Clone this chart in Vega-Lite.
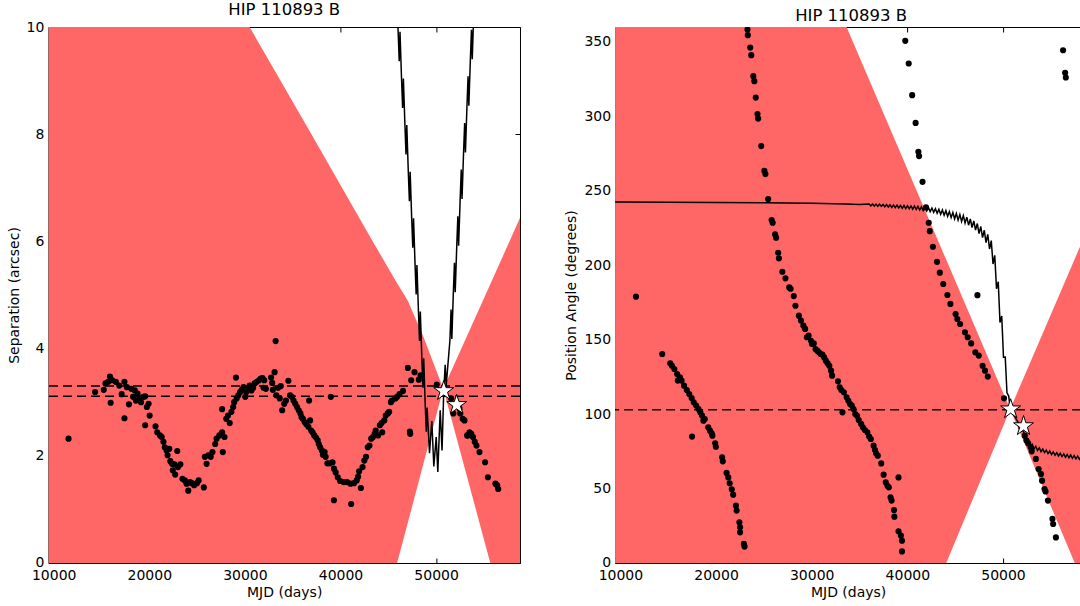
{
"$schema": "https://vega.github.io/schema/vega-lite/v6.json",
"padding": {"left": 6.4, "top": 1, "right": 0, "bottom": 0},
"spacing": 94.7,
"bounds": "flush",
"config": {
  "font": "DejaVu Sans",
  "view": {"stroke": "black", "strokeWidth": 1},
  "axis": {"grid": false, "domain": false, "ticks": true, "tickSize": -5, "tickColor": "black", "tickWidth": 1, "labelFont": "DejaVu Sans", "labelFontSize": 14, "labelColor": "black", "labelPadding": 9.5, "titleFont": "DejaVu Sans", "titleFontSize": 14, "titleFontWeight": "normal", "titleColor": "black", "labelFlush": false, "labelOverlap": false},
  "axisX": {"labelPadding": 11, "titlePadding": 3},
  "axisY": {"titlePadding": 5},
  "title": {"font": "DejaVu Sans", "fontSize": 16.5, "fontWeight": "normal", "color": "black", "offset": 2, "frame": "group"}
},
"datasets": {
  "sepband": [{"t":9446,"lo":0,"hi":10},{"t":30490,"lo":0,"hi":10},{"t":36900,"lo":0,"hi":8.02},{"t":43047,"lo":0,"hi":6.1},{"t":45921,"lo":0,"hi":5.22},{"t":47013,"lo":0.73,"hi":4.9},{"t":48610,"lo":1.81,"hi":4.25},{"t":50750,"lo":3.25,"hi":3.25},{"t":53420,"lo":1.49,"hi":4.31},{"t":55668,"lo":0,"hi":5.2},{"t":58776,"lo":0,"hi":6.44}],
  "paband": [{"t":9446,"lo":0,"hi":360},{"t":33646,"lo":0,"hi":360},{"t":44069,"lo":0,"hi":203.6},{"t":50750,"lo":103.3,"hi":103.3},{"t":57500,"lo":0,"hi":204.2},{"t":58166,"lo":0,"hi":214.2}],
  "sepref": [{"v":3.30},{"v":3.11}],
  "paref": [{"v":103.0}],
  "stars": [{"t":50800,"sep":3.21,"pa":103.3},{"t":52150,"sep":2.95,"pa":92.0}],
  "sepline": [{"t":45670,"v":10.81},{"t":45790,"v":10.23},{"t":45870,"v":10.78},{"t":46024,"v":9.94},{"t":46144,"v":9.36},{"t":46224,"v":9.91},{"t":46379,"v":9.07},{"t":46499,"v":8.49},{"t":46579,"v":9.04},{"t":46733,"v":8.20},{"t":46853,"v":7.62},{"t":46933,"v":8.17},{"t":47087,"v":7.33},{"t":47207,"v":6.75},{"t":47287,"v":7.30},{"t":47441,"v":6.46},{"t":47561,"v":5.88},{"t":47641,"v":6.43},{"t":47795,"v":5.59},{"t":47915,"v":5.01},{"t":47995,"v":5.56},{"t":48149,"v":4.72},{"t":48269,"v":4.14},{"t":48349,"v":4.69},{"t":48503,"v":3.85},{"t":48623,"v":3.27},{"t":48703,"v":3.82},{"t":48857,"v":2.98},{"t":48977,"v":2.45},{"t":49057,"v":2.90},{"t":49312,"v":2.05},{"t":49552,"v":2.65},{"t":49761,"v":1.80},{"t":50012,"v":2.35},{"t":50179,"v":1.70},{"t":50429,"v":2.85},{"t":50620,"v":2.10},{"t":50800,"v":3.20},{"t":50950,"v":3.70},{"t":51050,"v":3.30},{"t":51445,"v":4.15},{"t":51565,"v":4.73},{"t":51645,"v":4.18},{"t":51800,"v":5.02},{"t":51920,"v":5.60},{"t":52000,"v":5.05},{"t":52156,"v":5.89},{"t":52276,"v":6.47},{"t":52356,"v":5.92},{"t":52512,"v":6.76},{"t":52632,"v":7.34},{"t":52712,"v":6.79},{"t":52868,"v":7.63},{"t":52988,"v":8.21},{"t":53068,"v":7.66},{"t":53224,"v":8.50},{"t":53344,"v":9.08},{"t":53424,"v":8.53},{"t":53580,"v":9.37},{"t":53700,"v":9.95},{"t":53780,"v":9.40},{"t":53935,"v":10.24},{"t":54055,"v":10.82}],
  "paline": [{"t":9446,"v":242.4},{"t":15000,"v":242.3},{"t":20000,"v":242.1},{"t":25000,"v":241.9},{"t":30000,"v":241.6},{"t":33500,"v":241.2},{"t":35000,"v":240.85},{"t":36000,"v":241.15},{"t":36182,"v":239.90},{"t":36365,"v":241.11},{"t":36547,"v":239.76},{"t":36730,"v":241.07},{"t":36912,"v":239.62},{"t":37095,"v":240.96},{"t":37277,"v":239.48},{"t":37460,"v":240.84},{"t":37642,"v":239.26},{"t":37825,"v":240.73},{"t":38007,"v":239.05},{"t":38190,"v":240.56},{"t":38372,"v":238.83},{"t":38555,"v":240.45},{"t":38737,"v":238.62},{"t":38920,"v":240.34},{"t":39102,"v":238.45},{"t":39285,"v":240.22},{"t":39467,"v":238.24},{"t":39650,"v":240.11},{"t":39832,"v":238.03},{"t":40015,"v":239.94},{"t":40197,"v":237.86},{"t":40380,"v":239.83},{"t":40562,"v":237.65},{"t":40745,"v":239.71},{"t":40927,"v":237.43},{"t":41110,"v":239.50},{"t":41292,"v":237.10},{"t":41475,"v":239.24},{"t":41657,"v":236.73},{"t":41840,"v":238.97},{"t":42022,"v":236.36},{"t":42205,"v":238.71},{"t":42387,"v":236.00},{"t":42570,"v":238.40},{"t":42752,"v":235.48},{"t":42935,"v":237.96},{"t":43117,"v":234.84},{"t":43300,"v":237.53},{"t":43482,"v":234.21},{"t":43665,"v":237.09},{"t":43847,"v":233.57},{"t":44030,"v":236.64},{"t":44212,"v":232.83},{"t":44395,"v":236.01},{"t":44577,"v":231.99},{"t":44760,"v":235.38},{"t":44942,"v":231.17},{"t":45125,"v":234.73},{"t":45307,"v":230.27},{"t":45490,"v":234.02},{"t":45672,"v":229.37},{"t":45855,"v":233.32},{"t":46037,"v":228.36},{"t":46220,"v":232.31},{"t":46402,"v":226.87},{"t":46585,"v":231.08},{"t":46767,"v":225.33},{"t":46950,"v":229.79},{"t":47132,"v":223.55},{"t":47315,"v":228.01},{"t":47497,"v":221.28},{"t":47680,"v":225.99},{"t":47862,"v":218.49},{"t":48045,"v":223.49},{"t":48227,"v":215.23},{"t":48410,"v":220.70},{"t":48592,"v":210.88},{"t":48775,"v":216.55},{"t":48957,"v":200.78},{"t":49140,"v":206.6},{"t":49322,"v":184.15},{"t":49505,"v":188.96},{"t":49687,"v":161.57},{"t":49870,"v":165.92},{"t":50052,"v":138.23},{"t":50235,"v":138.35},{"t":50417,"v":114.32},{"t":50600,"v":112.1},{"t":50760,"v":103.3},{"t":51400,"v":96.5},{"t":52000,"v":90.0},{"t":52400,"v":84.5},{"t":52700,"v":81.8},{"t":52882,"v":77.8},{"t":53065,"v":79.6},{"t":53247,"v":76.55},{"t":53430,"v":78.39},{"t":53612,"v":75.58},{"t":53795,"v":77.39},{"t":53977,"v":74.80},{"t":54160,"v":76.51},{"t":54342,"v":74.12},{"t":54525,"v":75.79},{"t":54707,"v":73.48},{"t":54890,"v":75.18},{"t":55072,"v":72.87},{"t":55255,"v":74.56},{"t":55437,"v":72.33},{"t":55620,"v":74.11},{"t":55802,"v":71.89},{"t":55985,"v":73.68},{"t":56167,"v":71.46},{"t":56350,"v":73.25},{"t":56532,"v":71.06},{"t":56715,"v":72.88},{"t":56897,"v":70.69},{"t":57080,"v":72.51},{"t":57262,"v":70.32},{"t":57445,"v":72.14},{"t":57627,"v":69.96},{"t":57810,"v":71.78},{"t":57992,"v":69.61},{"t":58175,"v":71.43}],
  "seppts": [{"t":11552,"v":2.32},{"t":14332,"v":3.19},{"t":15235,"v":3.23},{"t":15415,"v":3.35},{"t":15704,"v":3.38},{"t":15884,"v":3.48},{"t":15957,"v":2.99},{"t":16137,"v":3.41},{"t":16498,"v":3.38},{"t":16859,"v":3.31},{"t":17112,"v":3.15},{"t":17401,"v":3.38},{"t":17401,"v":2.70},{"t":17653,"v":3.28},{"t":17870,"v":2.96},{"t":18123,"v":3.25},{"t":18303,"v":3.10},{"t":18484,"v":3.22},{"t":18592,"v":3.03},{"t":18773,"v":3.16},{"t":18953,"v":3.07},{"t":19134,"v":3.00},{"t":19386,"v":3.10},{"t":19567,"v":3.11},{"t":19567,"v":2.57},{"t":19747,"v":2.91},{"t":19928,"v":2.97},{"t":20036,"v":2.75},{"t":20650,"v":2.55},{"t":20830,"v":2.44},{"t":21119,"v":2.38},{"t":21300,"v":2.35},{"t":21480,"v":2.26},{"t":21625,"v":2.16},{"t":21805,"v":2.10},{"t":21913,"v":2.01},{"t":22094,"v":2.13},{"t":22202,"v":1.90},{"t":22383,"v":1.85},{"t":22455,"v":1.73},{"t":22635,"v":1.84},{"t":22708,"v":1.65},{"t":22924,"v":2.09},{"t":22996,"v":1.79},{"t":23249,"v":1.84},{"t":23466,"v":1.57},{"t":23718,"v":1.54},{"t":23899,"v":1.48},{"t":24079,"v":1.35},{"t":24260,"v":1.51},{"t":24440,"v":1.49},{"t":24693,"v":1.45},{"t":24982,"v":1.49},{"t":25162,"v":1.54},{"t":25704,"v":1.41},{"t":25812,"v":1.98},{"t":25993,"v":1.85},{"t":26173,"v":2.01},{"t":26426,"v":1.98},{"t":26606,"v":2.07},{"t":26895,"v":2.22},{"t":27040,"v":2.32},{"t":27329,"v":2.38},{"t":27617,"v":2.44},{"t":27690,"v":2.07},{"t":27870,"v":2.35},{"t":27617,"v":2.87},{"t":28051,"v":2.69},{"t":28231,"v":2.75},{"t":28412,"v":2.61},{"t":28592,"v":2.82},{"t":28773,"v":2.91},{"t":28881,"v":3.00},{"t":29061,"v":3.46},{"t":29134,"v":3.07},{"t":29315,"v":3.13},{"t":29495,"v":3.19},{"t":29675,"v":3.23},{"t":29856,"v":3.28},{"t":30036,"v":3.10},{"t":30144,"v":3.19},{"t":30289,"v":3.27},{"t":30505,"v":3.31},{"t":30686,"v":3.22},{"t":30866,"v":3.27},{"t":31011,"v":3.35},{"t":31227,"v":3.38},{"t":31480,"v":3.41},{"t":31661,"v":3.44},{"t":31841,"v":3.45},{"t":32022,"v":3.41},{"t":31949,"v":3.27},{"t":32202,"v":3.25},{"t":32744,"v":3.46},{"t":32852,"v":3.36},{"t":32924,"v":3.23},{"t":33105,"v":3.56},{"t":33213,"v":4.14},{"t":33285,"v":3.13},{"t":33466,"v":3.27},{"t":33646,"v":3.07},{"t":33755,"v":3.30},{"t":33899,"v":2.85},{"t":34116,"v":2.97},{"t":34296,"v":3.03},{"t":34549,"v":3.40},{"t":34729,"v":3.13},{"t":34910,"v":3.10},{"t":35090,"v":3.03},{"t":35271,"v":2.97},{"t":35451,"v":2.91},{"t":35632,"v":2.85},{"t":35812,"v":2.79},{"t":35921,"v":2.72},{"t":36065,"v":2.69},{"t":36245,"v":2.63},{"t":36426,"v":2.59},{"t":36643,"v":2.54},{"t":36715,"v":3.03},{"t":36823,"v":2.66},{"t":36931,"v":2.47},{"t":37076,"v":2.44},{"t":37256,"v":2.38},{"t":37437,"v":2.34},{"t":37617,"v":2.29},{"t":37726,"v":2.22},{"t":37870,"v":2.16},{"t":38051,"v":2.10},{"t":38159,"v":2.02},{"t":38339,"v":2.07},{"t":38448,"v":1.98},{"t":38628,"v":1.86},{"t":38881,"v":1.86},{"t":38989,"v":3.10},{"t":39170,"v":1.88},{"t":39314,"v":1.76},{"t":39314,"v":1.17},{"t":39495,"v":1.69},{"t":39711,"v":1.60},{"t":39964,"v":1.53},{"t":40325,"v":1.51},{"t":40686,"v":1.51},{"t":41047,"v":1.48},{"t":41119,"v":1.10},{"t":41408,"v":1.49},{"t":41697,"v":1.54},{"t":41841,"v":1.61},{"t":41949,"v":1.71},{"t":42130,"v":1.40},{"t":42310,"v":1.79},{"t":42491,"v":1.91},{"t":42671,"v":1.98},{"t":42852,"v":2.16},{"t":43032,"v":2.19},{"t":43213,"v":2.32},{"t":43394,"v":2.35},{"t":43574,"v":2.41},{"t":43682,"v":2.47},{"t":43935,"v":2.38},{"t":44116,"v":2.57},{"t":44296,"v":2.61},{"t":44368,"v":2.44},{"t":44585,"v":2.66},{"t":44729,"v":2.75},{"t":44946,"v":2.79},{"t":45090,"v":2.82},{"t":45271,"v":3.00},{"t":45379,"v":3.03},{"t":45740,"v":3.07},{"t":45921,"v":3.10},{"t":46173,"v":3.15},{"t":46534,"v":3.21},{"t":47047,"v":3.64},{"t":47290,"v":2.41},{"t":47256,"v":2.45},{"t":47395,"v":3.41},{"t":47743,"v":3.56},{"t":48194,"v":3.42},{"t":48370,"v":3.50},{"t":50075,"v":3.33},{"t":51579,"v":3.07},{"t":51805,"v":2.79},{"t":52446,"v":2.88},{"t":52527,"v":2.79},{"t":52780,"v":2.69},{"t":52970,"v":2.66},{"t":53249,"v":2.38},{"t":53315,"v":2.38},{"t":53502,"v":2.44},{"t":53682,"v":2.41},{"t":53863,"v":2.35},{"t":54043,"v":2.26},{"t":54224,"v":2.19},{"t":54538,"v":2.07},{"t":55126,"v":1.88},{"t":55415,"v":1.60},{"t":56209,"v":1.48},{"t":56390,"v":1.45},{"t":56498,"v":1.38}],
  "papts": [{"t":11625,"v":178.9},{"t":14376,"v":140.4},{"t":15208,"v":134.1},{"t":15389,"v":132.5},{"t":15642,"v":130.3},{"t":15931,"v":126.9},{"t":16004,"v":122.5},{"t":16221,"v":124.7},{"t":16402,"v":122.5},{"t":16655,"v":119.1},{"t":16944,"v":116.2},{"t":17197,"v":113.5},{"t":17450,"v":110.8},{"t":17486,"v":84.9},{"t":17667,"v":107.9},{"t":17920,"v":105.7},{"t":18174,"v":103.4},{"t":18354,"v":101.2},{"t":18535,"v":99.0},{"t":18680,"v":95.6},{"t":18825,"v":96.7},{"t":19186,"v":91.1},{"t":19367,"v":88.9},{"t":19548,"v":87.1},{"t":19620,"v":85.5},{"t":19910,"v":80.4},{"t":19982,"v":78.1},{"t":20633,"v":71.0},{"t":20705,"v":68.3},{"t":21103,"v":60.5},{"t":21284,"v":57.5},{"t":21428,"v":53.5},{"t":21645,"v":49.5},{"t":21790,"v":45.9},{"t":22079,"v":38.5},{"t":22152,"v":35.2},{"t":22441,"v":27.3},{"t":22514,"v":24.0},{"t":22514,"v":20.6},{"t":22912,"v":12.8},{"t":22984,"v":11.0},{"t":23285,"v":358.3},{"t":23321,"v":354.5},{"t":23574,"v":346.2},{"t":23682,"v":341.1},{"t":23899,"v":327.0},{"t":24007,"v":323.6},{"t":24152,"v":312.6},{"t":24332,"v":301.5},{"t":24404,"v":298.5},{"t":24729,"v":280.0},{"t":25054,"v":263.4},{"t":25162,"v":261.2},{"t":25451,"v":244.4},{"t":25812,"v":230.3},{"t":25921,"v":228.5},{"t":26173,"v":220.7},{"t":26282,"v":218.5},{"t":26498,"v":208.4},{"t":26570,"v":204.6},{"t":26931,"v":195.6},{"t":27256,"v":191.2},{"t":27653,"v":185.1},{"t":27798,"v":184.2},{"t":28123,"v":179.3},{"t":28300,"v":172.8},{"t":28662,"v":166.1},{"t":28879,"v":162.8},{"t":29132,"v":159.4},{"t":29313,"v":157.2},{"t":29494,"v":151.6},{"t":29675,"v":152.7},{"t":29928,"v":149.3},{"t":30036,"v":147.1},{"t":30217,"v":147.5},{"t":30398,"v":143.7},{"t":30579,"v":142.6},{"t":30759,"v":141.5},{"t":30940,"v":140.4},{"t":31121,"v":139.9},{"t":31302,"v":138.1},{"t":31483,"v":135.9},{"t":31664,"v":134.1},{"t":31844,"v":132.5},{"t":32025,"v":129.2},{"t":32134,"v":125.8},{"t":32749,"v":122.0},{"t":32929,"v":118.0},{"t":33110,"v":116.2},{"t":33219,"v":101.2},{"t":33363,"v":114.6},{"t":33653,"v":111.3},{"t":33834,"v":109.0},{"t":34014,"v":106.8},{"t":34195,"v":105.7},{"t":34376,"v":103.4},{"t":34557,"v":100.1},{"t":34738,"v":98.9},{"t":34919,"v":96.0},{"t":35172,"v":93.4},{"t":35353,"v":91.1},{"t":35569,"v":89.3},{"t":35823,"v":87.8},{"t":36004,"v":84.9},{"t":36184,"v":83.3},{"t":36474,"v":78.8},{"t":36618,"v":75.9},{"t":36727,"v":73.7},{"t":36908,"v":72.1},{"t":37269,"v":66.9},{"t":37522,"v":59.3},{"t":37740,"v":54.2},{"t":37920,"v":51.9},{"t":38065,"v":50.8},{"t":38246,"v":44.1},{"t":38354,"v":41.9},{"t":38608,"v":35.6},{"t":38644,"v":31.1},{"t":39078,"v":57.5},{"t":39078,"v":21.3},{"t":39331,"v":18.4},{"t":39439,"v":15.0},{"t":39439,"v":7.8},{"t":39783,"v":350.7},{"t":40144,"v":335.5},{"t":40505,"v":314.2},{"t":40866,"v":295.6},{"t":41155,"v":276.2},{"t":41227,"v":273.3},{"t":41588,"v":256.0},{"t":41949,"v":238.8},{"t":42238,"v":228.5},{"t":42347,"v":222.9},{"t":42671,"v":212.4},{"t":43105,"v":202.3},{"t":43394,"v":195.0},{"t":43755,"v":187.4},{"t":44188,"v":180.0},{"t":44503,"v":174.0},{"t":45045,"v":167.2},{"t":45226,"v":163.9},{"t":45515,"v":160.5},{"t":46022,"v":154.9},{"t":46311,"v":151.6},{"t":46673,"v":147.5},{"t":47107,"v":141.5},{"t":47329,"v":179.9},{"t":47469,"v":139.3},{"t":47866,"v":132.5},{"t":48119,"v":129.2},{"t":48409,"v":125.2},{"t":50108,"v":110.6},{"t":51917,"v":91.1},{"t":52278,"v":85.5},{"t":52459,"v":82.2},{"t":52640,"v":80.4},{"t":52893,"v":77.7},{"t":53002,"v":75.0},{"t":53436,"v":69.9},{"t":53725,"v":63.1},{"t":53978,"v":59.8},{"t":54087,"v":55.3},{"t":54340,"v":49.7},{"t":54448,"v":48.1},{"t":54702,"v":41.9},{"t":55172,"v":29.6},{"t":55244,"v":26.2},{"t":55533,"v":17.2},{"t":56282,"v":344.4},{"t":56498,"v":329.2},{"t":56570,"v":326.1}]
},
"hconcat": [
  {
    "width": 471.6, "height": 536,
    "title": {"text": "HIP 110893 B"},
    "resolve": {"axis": {"x": "independent", "y": "independent"}},
    "layer": [
      {"data": {"name": "sepband"}, "mark": {"type": "area", "color": "#ff6666", "opacity": 1, "clip": true},
       "encoding": {
         "x": {"field": "t", "type": "quantitative", "scale": {"domain": [9446, 58776], "nice": false, "zero": false}, "axis": {"values": [10000, 20000, 30000, 40000, 50000], "format": "d", "title": "MJD (days)"}},
         "y": {"field": "lo", "type": "quantitative", "scale": {"domain": [0, 10], "nice": false, "zero": false}, "axis": {"values": [0, 2, 4, 6, 8, 10], "format": "d", "title": "Separation (arcsec)"}},
         "y2": {"field": "hi"}}},
      {"data": {"name": "sepref"}, "mark": {"type": "rule", "color": "black", "strokeDash": [9, 5], "strokeWidth": 1.5},
       "encoding": {"y": {"field": "v", "type": "quantitative", "scale": {"domain": [0, 10], "nice": false, "zero": false}, "axis": null}}},
      {"data": {"name": "sepline"}, "mark": {"type": "line", "color": "black", "strokeWidth": 1.5, "clip": true},
       "encoding": {
         "x": {"field": "t", "type": "quantitative", "scale": {"domain": [9446, 58776], "nice": false, "zero": false}, "axis": null},
         "y": {"field": "v", "type": "quantitative", "scale": {"domain": [0, 10], "nice": false, "zero": false}, "axis": null}}},
      {"data": {"name": "seppts"}, "mark": {"type": "circle", "color": "black", "size": 38, "opacity": 1, "clip": true},
       "encoding": {
         "x": {"field": "t", "type": "quantitative", "scale": {"domain": [9446, 58776], "nice": false, "zero": false}, "axis": null},
         "y": {"field": "v", "type": "quantitative", "scale": {"domain": [0, 10], "nice": false, "zero": false}, "axis": null}}},
      {"data": {"name": "stars"}, "mark": {"type": "point", "shape": "M0,-1L0.2245,-0.309L0.951,-0.309L0.363,0.118L0.588,0.809L0,0.382L-0.588,0.809L-0.363,0.118L-0.951,-0.309L-0.2245,-0.309Z", "size": 440, "filled": true, "fill": "white", "stroke": "black", "strokeWidth": 1, "opacity": 1},
       "encoding": {
         "x": {"field": "t", "type": "quantitative", "scale": {"domain": [9446, 58776], "nice": false, "zero": false}, "axis": {"orient": "top", "values": [10000, 20000, 30000, 40000, 50000], "labels": false, "title": null}},
         "y": {"field": "sep", "type": "quantitative", "scale": {"domain": [0, 10], "nice": false, "zero": false}, "axis": {"orient": "right", "values": [0, 2, 4, 6, 8, 10], "labels": false, "title": null}}}}
    ]
  },
  {
    "width": 466, "height": 536,
    "title": {"text": "HIP 110893 B", "dx": 3},
    "resolve": {"axis": {"x": "independent", "y": "independent"}},
    "layer": [
      {"data": {"name": "paband"}, "mark": {"type": "area", "color": "#ff6666", "opacity": 1, "clip": true},
       "encoding": {
         "x": {"field": "t", "type": "quantitative", "scale": {"domain": [9446, 58166], "nice": false, "zero": false}, "axis": {"values": [10000, 20000, 30000, 40000, 50000], "format": "d", "title": "MJD (days)"}},
         "y": {"field": "lo", "type": "quantitative", "scale": {"domain": [0, 360], "nice": false, "zero": false}, "axis": {"values": [0, 50, 100, 150, 200, 250, 300, 350], "format": "d", "title": "Position Angle (degrees)"}},
         "y2": {"field": "hi"}}},
      {"data": {"name": "paref"}, "mark": {"type": "rule", "color": "black", "strokeDash": [9, 5], "strokeWidth": 1.5},
       "encoding": {"y": {"field": "v", "type": "quantitative", "scale": {"domain": [0, 360], "nice": false, "zero": false}, "axis": null}}},
      {"data": {"name": "paline"}, "mark": {"type": "line", "color": "black", "strokeWidth": 1.5, "clip": true},
       "encoding": {
         "x": {"field": "t", "type": "quantitative", "scale": {"domain": [9446, 58166], "nice": false, "zero": false}, "axis": null},
         "y": {"field": "v", "type": "quantitative", "scale": {"domain": [0, 360], "nice": false, "zero": false}, "axis": null}}},
      {"data": {"name": "papts"}, "mark": {"type": "circle", "color": "black", "size": 38, "opacity": 1, "clip": true},
       "encoding": {
         "x": {"field": "t", "type": "quantitative", "scale": {"domain": [9446, 58166], "nice": false, "zero": false}, "axis": null},
         "y": {"field": "v", "type": "quantitative", "scale": {"domain": [0, 360], "nice": false, "zero": false}, "axis": null}}},
      {"data": {"name": "stars"}, "mark": {"type": "point", "shape": "M0,-1L0.2245,-0.309L0.951,-0.309L0.363,0.118L0.588,0.809L0,0.382L-0.588,0.809L-0.363,0.118L-0.951,-0.309L-0.2245,-0.309Z", "size": 440, "filled": true, "fill": "white", "stroke": "black", "strokeWidth": 1, "opacity": 1},
       "encoding": {
         "x": {"field": "t", "type": "quantitative", "scale": {"domain": [9446, 58166], "nice": false, "zero": false}, "axis": {"orient": "top", "values": [10000, 20000, 30000, 40000, 50000], "labels": false, "title": null}},
         "y": {"field": "pa", "type": "quantitative", "scale": {"domain": [0, 360], "nice": false, "zero": false}, "axis": null}}}
    ]
  }
]
}
